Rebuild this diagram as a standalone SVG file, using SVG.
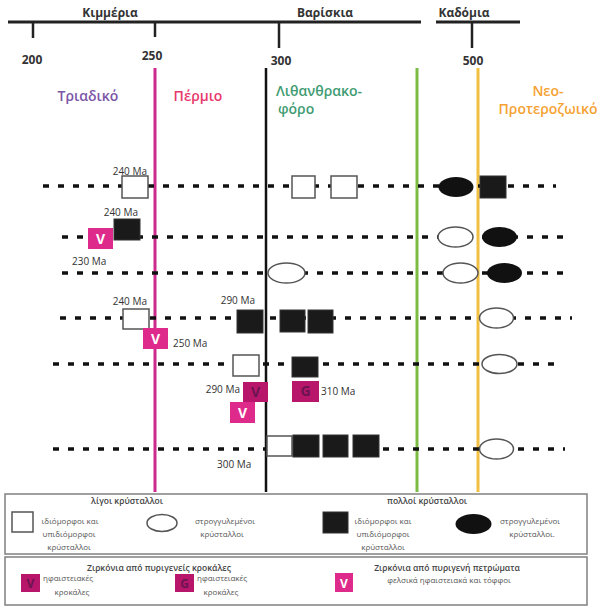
<svg xmlns="http://www.w3.org/2000/svg" width="601" height="606" viewBox="0 0 601 606">
<style>
text{font-family:"Open Sans","DejaVu Sans",sans-serif}
.hdr{font-size:12px;font-weight:bold;fill:#333;text-anchor:middle}
.num{font-size:12px;font-weight:bold;fill:#333;text-anchor:middle}
.per{font-size:14px;font-weight:600}
.ma{font-size:10px;fill:#333}
.row{stroke:#111;stroke-width:3.5;stroke-dasharray:6 9;fill:none}
.ws{fill:#fff;stroke:#555;stroke-width:1.5}
.bs{fill:#1a1a1a;stroke:#333;stroke-width:1}
.we{fill:#fff;stroke:#555;stroke-width:1.5}
.be{fill:#111}
.vb{fill:#de2a8a}
.vd{fill:#b8166b}
.vt{font-size:14px;font-weight:bold;fill:#fff;text-anchor:middle}
.vtd{font-size:14px;font-weight:bold;fill:#6b1450;text-anchor:middle}
.lbox{fill:#fff;stroke:#808080;stroke-width:1.5}
.lt{font-size:8px;fill:#555;text-anchor:middle}
.ls{font-size:8px;fill:#555;text-anchor:start}
.lh{font-size:8.5px;fill:#444;text-anchor:middle;font-weight:600}
</style>
<rect width="601" height="606" fill="#fff"/>
<g id="axis">
<line x1="8" y1="22" x2="421" y2="22" stroke="#222" stroke-width="3"/>
<line x1="436" y1="22" x2="520" y2="22" stroke="#222" stroke-width="3"/>
<line x1="33" y1="22" x2="33" y2="38" stroke="#222" stroke-width="2.5"/>
<line x1="155" y1="22" x2="155" y2="37" stroke="#222" stroke-width="2.5"/>
<line x1="279" y1="22" x2="279" y2="48" stroke="#222" stroke-width="2.5"/>
<line x1="472" y1="22" x2="472" y2="48" stroke="#222" stroke-width="2.5"/>
<text class="hdr" x="110" y="17">Κιμμέρια</text>
<text class="hdr" x="325" y="17">Βαρίσκια</text>
<text class="hdr" x="464" y="17">Καδόμια</text>
<text class="num" x="32" y="64">200</text>
<text class="num" x="152" y="60">250</text>
<text class="num" x="281" y="65">300</text>
<text class="num" x="473" y="65">500</text>
</g>
<g id="periods">
<line x1="155" y1="68" x2="155" y2="492" stroke="#cc2a8c" stroke-width="3"/>
<line x1="266" y1="68" x2="266" y2="492" stroke="#111" stroke-width="2.5"/>
<line x1="417" y1="68" x2="417" y2="492" stroke="#7cbc45" stroke-width="3"/>
<line x1="478" y1="68" x2="478" y2="492" stroke="#f2c040" stroke-width="3"/>
<text class="per" x="88" y="101" text-anchor="middle" fill="#7b55a6">Τριαδικό</text>
<text class="per" x="198" y="101" text-anchor="middle" fill="#e8386c">Πέρμιο</text>
<text class="per" x="276" y="96" fill="#3f9c72">Λιθανθρακο-</text>
<text class="per" x="278" y="114" fill="#3f9c72">φόρο</text>
<text class="per" x="548" y="96" text-anchor="middle" fill="#f5a232">Νεο-</text>
<text class="per" x="548" y="114" text-anchor="middle" fill="#f5a232">Προτεροζωικό</text>
</g>
<g id="connectors">
<line class="row" x1="43" y1="186" x2="556" y2="186"/>
<line class="row" x1="62" y1="237" x2="572" y2="237"/>
<line class="row" x1="62" y1="273" x2="572" y2="273"/>
<line class="row" x1="60" y1="318" x2="572" y2="318"/>
<line class="row" x1="53" y1="364" x2="562" y2="364"/>
<line class="row" x1="53" y1="449" x2="565" y2="449"/>
</g>
<g id="row1">
<rect class="ws" x="122" y="176" width="26" height="22"/>
<text class="ma" x="147" y="175" text-anchor="end">240 Ma</text>
<rect class="ws" x="292" y="176" width="23" height="22"/>
<rect class="ws" x="331" y="176" width="26" height="22"/>
<ellipse class="be" cx="456" cy="187" rx="17.5" ry="10"/>
<rect class="bs" x="480" y="176" width="26" height="22"/>
</g>
<g id="row2">
<rect class="bs" x="114" y="219" width="26" height="21"/>
<rect class="vb" x="88" y="228" width="25" height="21"/>
<text class="vt" x="100.5" y="244">V</text>
<text class="ma" x="138" y="216" text-anchor="end">240 Ma</text>
<text class="ma" x="72" y="265">230 Ma</text>
<ellipse class="we" cx="455.5" cy="237" rx="17.5" ry="10"/>
<ellipse class="be" cx="499.5" cy="237" rx="17.5" ry="10"/>
</g>
<g id="row3">
<ellipse class="we" cx="286.5" cy="273" rx="18.5" ry="10"/>
<ellipse class="we" cx="460.5" cy="273" rx="17.5" ry="10"/>
<ellipse class="be" cx="504.5" cy="273" rx="17.5" ry="10"/>
</g>
<g id="row4">
<rect class="ws" x="123" y="309" width="26" height="20"/>
<text class="ma" x="147" y="305" text-anchor="end">240 Ma</text>
<rect class="vb" x="143" y="328" width="25" height="21"/>
<text class="vt" x="155.5" y="344">V</text>
<text class="ma" x="173" y="347">250 Ma</text>
<rect class="bs" x="237" y="310" width="26" height="23"/>
<text class="ma" x="255" y="304" text-anchor="end">290 Ma</text>
<rect class="bs" x="280" y="310" width="25" height="22"/>
<rect class="bs" x="308" y="310" width="25" height="23"/>
<ellipse class="we" cx="496.5" cy="318" rx="17" ry="10"/>
</g>
<g id="row5">
<rect class="ws" x="233" y="355" width="26" height="21"/>
<rect class="bs" x="292" y="357" width="26" height="20"/>
<ellipse class="we" cx="499.5" cy="364" rx="17.5" ry="9.5"/>
<text class="ma" x="240" y="393" text-anchor="end">290 Ma</text>
<rect class="vd" x="243" y="382" width="25" height="20"/>
<text class="vtd" x="255.5" y="397">V</text>
<rect class="vb" x="230" y="402" width="25" height="21"/>
<text class="vt" x="242.5" y="418">V</text>
<rect class="vd" x="292" y="381" width="27" height="21"/>
<text class="vtd" x="305.5" y="396">G</text>
<text class="ma" x="321" y="395">310 Ma</text>
</g>
<g id="row6">
<rect class="ws" x="267" y="436" width="25" height="20"/>
<rect class="bs" x="293" y="435" width="26" height="22"/>
<rect class="bs" x="323" y="435" width="25" height="22"/>
<rect class="bs" x="353" y="435" width="26" height="22"/>
<ellipse class="we" cx="496.5" cy="449" rx="17" ry="10"/>
<text class="ma" x="217" y="468">300 Ma</text>
</g>
<g id="legend-crystals">
<rect class="lbox" x="5" y="494" width="582" height="60"/>
<text class="lh" x="127" y="504">λίγοι κρύσταλλοι</text>
<rect class="ws" x="12" y="512" width="21" height="20"/>
<text class="lt" x="70" y="524">ιδιόμορφοι και</text>
<text class="lt" x="69" y="537">υπιδιόμορφοι</text>
<text class="lt" x="69" y="550">κρύσταλλοι</text>
<ellipse class="we" cx="162" cy="523" rx="15" ry="8.5"/>
<text class="lt" x="225" y="524">στρογγυλεμένοι</text>
<text class="lt" x="222" y="537">κρύσταλλοι</text>
<text class="lh" x="427" y="504">πολλοί κρύσταλλοι</text>
<rect class="bs" x="323" y="512" width="25" height="21"/>
<text class="lt" x="383" y="524">ιδιόμορφοι και</text>
<text class="lt" x="383" y="537">υπιδιόμορφοι</text>
<text class="lt" x="383" y="550">κρύσταλλοι</text>
<ellipse class="be" cx="473.5" cy="524" rx="18" ry="10"/>
<text class="lt" x="530" y="524">στρογγυλεμένοι</text>
<text class="lt" x="532" y="537">κρύσταλλοι.</text>
</g>
<g id="legend-zircons">
<rect class="lbox" x="5" y="557" width="582" height="48"/>
<text class="lh" x="159" y="571">Ζιρκόνια από πυριγενείς κροκάλες</text>
<rect class="vd" x="21" y="574" width="19" height="18"/>
<text class="vtd" x="30.5" y="588" style="font-size:12px">V</text>
<text class="ls" x="43" y="581">ηφαιστειακές</text>
<text class="lt" x="72" y="595">κροκάλες</text>
<rect class="vd" x="175" y="574" width="19" height="18"/>
<text class="vtd" x="184.5" y="588" style="font-size:12px">G</text>
<text class="ls" x="197" y="581">ηφαιστειακές</text>
<text class="lt" x="221" y="595">κροκάλες</text>
<text class="lh" x="447" y="571">Ζιρκόνια από πυριγενή πετρώματα</text>
<rect class="vb" x="335" y="573" width="18" height="19"/>
<text class="vt" x="344" y="588" style="font-size:12px">V</text>
<text class="lt" x="449" y="583">φελσικά ηφαιστειακά και τόφφοι</text>
</g>
</svg>
